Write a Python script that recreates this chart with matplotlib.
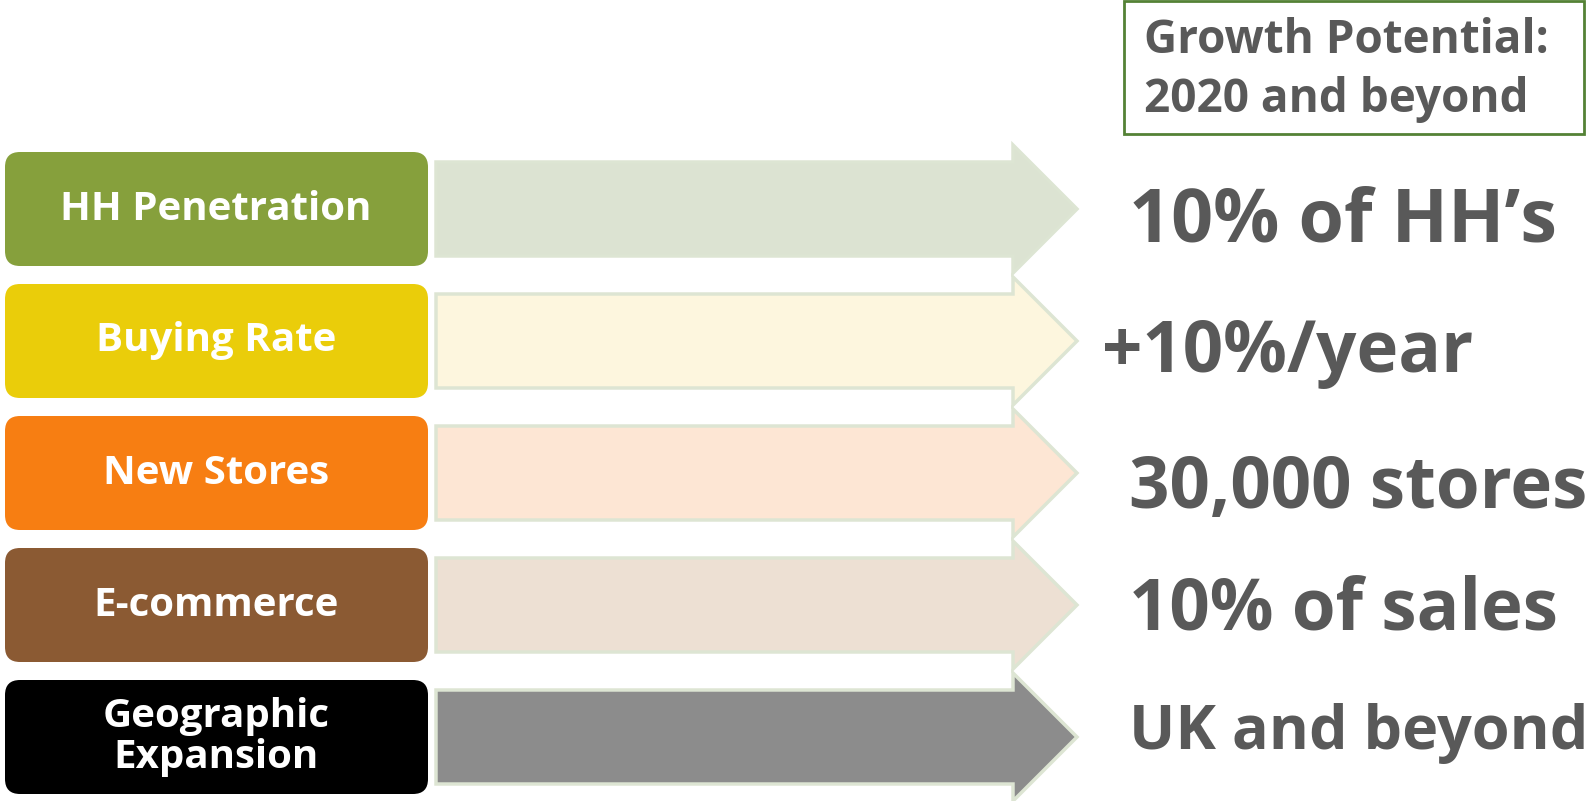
import matplotlib
matplotlib.use('Agg')
import matplotlib.pyplot as plt
from matplotlib.patches import FancyBboxPatch, Polygon, Rectangle

plt.rcParams['font.family'] = ['Open Sans', 'DejaVu Sans']

# drivers and their targets
drivers = ['HH Penetration', 'Buying Rate', 'New Stores', 'E-commerce', 'Geographic\nExpansion']
targets = ['10% of HH\u2019s', '+10%/year', '30,000 stores', '10% of sales', 'UK and beyond']
box_colors = ['#86a03c', '#eacd0a', '#f77e12', '#8b5a33', '#000000']
arrow_colors = ['#dce3d2', '#fdf6de', '#fde6d4', '#ede0d3', '#8c8c8c']
title = 'Growth Potential:\n2020 and beyond'

# layout (pixels)
W, H = 1595, 801
row0, pitch = 209, 132
target_x = [1129, 1102, 1129, 1129, 1129]
target_dy = [14, 12, 16, 6, -3]
target_fs = [53, 51, 51, 51, 44]   # last one squeezed, Open Sans is wider than the original font

fig = plt.figure(figsize=(W / 100, H / 100), dpi=100)
ax = fig.add_axes([0, 0, 1, 1])
ax.set_xlim(0, W)
ax.set_ylim(H, 0)
ax.axis('off')

for i, lab in enumerate(drivers):
    yc = row0 + i * pitch
    # rounded label box
    box = FancyBboxPatch((20, yc - 42), 393, 84, boxstyle='round,pad=15,rounding_size=15',
                         fc=box_colors[i], ec='none')
    ax.add_patch(box)
    ax.text(216, yc, lab, color='white', fontsize=29, fontweight='bold',
            ha='center', va='center', linespacing=1.05)
    # block arrow
    pts = [(436, yc - 47), (1013, yc - 47), (1013, yc - 64), (1077, yc),
           (1013, yc + 64), (1013, yc + 47), (436, yc + 47)]
    ax.add_patch(Polygon(pts, closed=True, fc=arrow_colors[i], ec='#dde5d3', lw=2.5,
                         joinstyle='miter'))
    ax.text(target_x[i], yc + target_dy[i], targets[i], color='#595959', fontsize=target_fs[i],
            fontweight='bold', ha='left', va='center')

# title box
ax.add_patch(Rectangle((1124, 1), 460, 133, fc='white', ec='#548235', lw=2))
ax.text(1144, 70, title, color='#595959', fontsize=33, fontweight='bold',
        ha='left', va='center', linespacing=1.35)

fig.savefig('out.png', dpi=100)
